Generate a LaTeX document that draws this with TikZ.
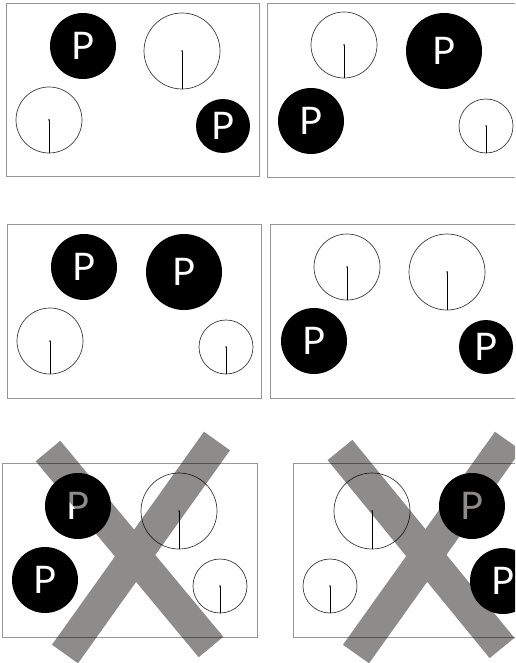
\documentclass[tikz,border=0pt]{standalone}
\usepackage{fontspec}
\newfontfamily\pfont{Lato}
\definecolor{framegray}{RGB}{150,150,150}
\definecolor{ringgray}{RGB}{60,60,60}
\definecolor{bandgray}{RGB}{141,140,138}
\tikzset{
  panel/.style={draw=framegray, line width=0.9pt},
  pdisk/.style={circle, fill=black, inner sep=0pt, text=white,
     font=\pfont\fontsize{38}{38}\selectfont},
  ring/.style={circle, draw=ringgray, line width=0.7pt, inner sep=0pt},
  needle/.style={draw=black, line width=1pt},
  hub/.style={fill=ringgray},
  band/.style={draw=bandgray, line width=32pt, line cap=butt},
}
\newcommand{\openring}[4]{%
  \node[ring, minimum size=#4pt] (#1) at (#2,#3) {};
  \draw[needle] (#1.center) -- (#1.south);
  \fill[hub] (#1.center) circle (1pt);
}
\begin{document}
\begin{tikzpicture}[x=1pt,y=-1pt]
\clip (0,0) rectangle (515,663);
\fill[white] (0,0) rectangle (515,663);

% Panel 1
\draw[panel] (6,3) rectangle (259,176);
\node[pdisk, minimum size=66pt] (p1a) at (83,46) {P};
\openring{o1a}{182}{51}{76}
\openring{o1b}{49}{120}{66}
\node[pdisk, minimum size=54pt] (p1b) at (223,126) {P};

% Panel 2
\draw[panel] (267,3) rectangle (530,177);
\openring{o2a}{344}{45}{66}
\node[pdisk, minimum size=76pt] (p2a) at (444,51) {P};
\node[pdisk, minimum size=66pt] (p2b) at (311,121) {P};
\openring{o2b}{486}{126}{54}

% Panel 3
\draw[panel] (7,224) rectangle (261,398);
\node[pdisk, minimum size=66pt] (p3a) at (84,267) {P};
\node[pdisk, minimum size=76pt] (p3b) at (184,272) {P};
\openring{o3a}{50}{341}{66}
\openring{o3b}{226}{347}{54}

% Panel 4
\draw[panel] (270,224) rectangle (530,398);
\openring{o4a}{347}{267}{66}
\openring{o4b}{447}{272}{76}
\node[pdisk, minimum size=66pt] (p4a) at (314,341) {P};
\node[pdisk, minimum size=54pt] (p4b) at (486,347) {P};

% Panel 5
\draw[panel] (2,463) rectangle (257,637);
\node[pdisk, minimum size=66pt] (p5a) at (78,506) {P};
\node[pdisk, minimum size=66pt] (p5b) at (45,580) {P};
\openring{o5a}{179}{511}{76}
\openring{o5b}{220}{586}{54}

% Panel 6
\draw[panel] (293,463) rectangle (550,637);
\openring{o6a}{372}{511}{76}
\openring{o6b}{330}{586}{54}
\node[pdisk, minimum size=66pt] (p6a) at (472,506) {P};
\node[pdisk, minimum size=66pt] (p6b) at (503,581) {P};

% Crosses
\coordinate (x5a) at (48,451);
\coordinate (x5b) at (211,647);
\coordinate (x5c) at (217,441);
\coordinate (x5d) at (65,654);
\coordinate (x6a) at (340,450);
\coordinate (x6b) at (502,648);
\coordinate (x6c) at (508,441);
\coordinate (x6d) at (356,654);
\begin{scope}[blend mode=multiply]
  \draw[band] (x5a) -- (x5b) (x5c) -- (x5d);
  \draw[band] (x6a) -- (x6b) (x6c) -- (x6d);
\end{scope}
\end{tikzpicture}
\end{document}
